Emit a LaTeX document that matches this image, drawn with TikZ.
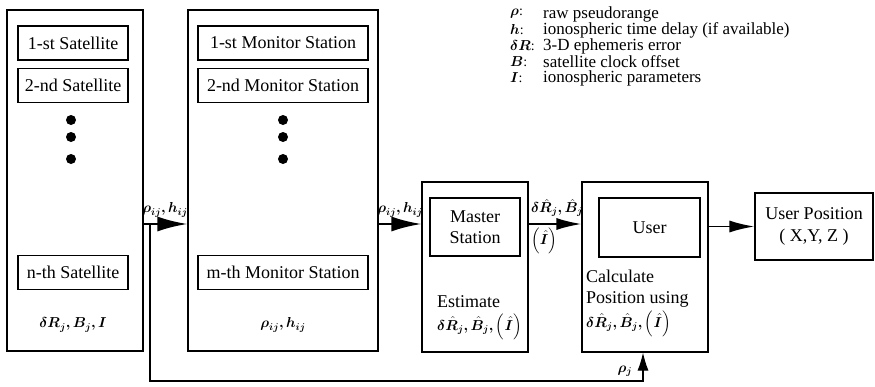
\documentclass[tikz,border=0pt]{standalone}
\usepackage{fontspec}
\setmainfont{Liberation Serif}
\usepackage{amsmath}
\usepackage{bm}
\usetikzlibrary{arrows.meta}
\tikzset{
  outer/.style={draw, line width=1.1pt, inner sep=0pt},
  inner/.style={draw, line width=1.1pt, inner sep=0pt, font=\fontsize{18}{21}\selectfont},
  dotc/.style={fill, circle, inner sep=0pt, minimum size=10pt},
  lab/.style={inner sep=0pt, font=\fontsize{14}{16}\selectfont},
  txt/.style={inner sep=0pt, align=left, anchor=west, font=\fontsize{18}{21}\selectfont},
  big/.style={line width=2.4pt, -{Latex[length=30pt,width=15pt]}},
  med/.style={line width=1.8pt, -{Latex[length=25pt,width=12pt]}},
  thin/.style={line width=1.1pt},
  leg/.style={inner sep=0pt, anchor=west, font=\fontsize{17}{16}\selectfont},
  legs/.style={inner sep=0pt, anchor=west, font=\fontsize{14}{16}\selectfont}
}
\begin{document}
\begin{tikzpicture}[x=1pt,y=-1pt]
\useasboundingbox (0,0) rectangle (875,386);
% satellites
\node[outer, minimum width=136pt, minimum height=341pt] (sat) at (75,180.5) {};
\node[inner, minimum width=110pt, minimum height=34pt] (s1) at (73,43) {1-st Satellite};
\node[inner, minimum width=110pt, minimum height=34pt] (s2) at (73,85.5) {2-nd Satellite};
\node[inner, minimum width=110pt, minimum height=34pt] (sn) at (73,272.5) {n-th Satellite};
\node[dotc] (sd1) at (71,120) {};
\node[dotc] (sd2) at (71,137) {};
\node[dotc] (sd3) at (71,159) {};
\node[lab] (slab) at (73,325) {$\bm{\delta R_j, B_j, I}$};
% monitors
\node[outer, minimum width=190pt, minimum height=341pt] (mon) at (283,180.5) {};
\node[inner, minimum width=170pt, minimum height=34pt] (m1) at (283,43) {1-st Monitor Station};
\node[inner, minimum width=170pt, minimum height=34pt] (m2) at (283,85.5) {2-nd Monitor Station};
\node[inner, minimum width=170pt, minimum height=34pt] (mm) at (283,272.5) {m-th Monitor Station};
\node[dotc] (md1) at (283,120) {};
\node[dotc] (md2) at (283,137) {};
\node[dotc] (md3) at (283,159) {};
\node[lab] (mlab) at (283,325) {$\bm{\rho_{ij}, h_{ij}}$};
% master
\node[outer, minimum width=106pt, minimum height=170pt] (mas) at (475,267) {};
\node[inner, minimum width=90pt, minimum height=58pt, align=center] (masi) at (475,227) {Master\\Station};
\node[txt] (mast) at (437,302) {Estimate};
\node[lab, anchor=west] (masf) at (437,327) {$\bm{\delta\hat{R}_j, \hat{B}_j, \left(\hat{I}\right)}$};
% user
\node[outer, minimum width=126pt, minimum height=170pt] (usr) at (645,267) {};
\node[inner, minimum width=101pt, minimum height=59pt] (usri) at (649.5,227.5) {User};
\node[txt] (usrt) at (586,289) {Calculate\\Position using};
\node[lab, anchor=west] (usrf) at (586,324) {$\bm{\delta\hat{R}_j, \hat{B}_j, \left(\hat{I}\right)}$};
% user position
\node[outer, minimum width=118pt, minimum height=67pt, align=center, font=\fontsize{18}{22}\selectfont] (upos) at (814,226.5) {User Position\\( X,Y, Z )};
% connectors
\coordinate (yl) at (0,224);
\coordinate (fb) at (150,224);
\coordinate (fbc) at (643,381);
\draw[big] (sat.east |- yl) -- (mon.west |- yl);
\draw[big] (mon.east |- yl) -- (mas.west |- yl);
\draw[med] (mas.east |- yl) -- (usr.west |- yl);
\draw[med] (usr.east |- upos.west) -- (upos.west);
\draw[thin, -{Latex[length=18pt,width=11pt]}] (fb) |- (fbc) -- (fbc |- usr.south);
% connector labels
\node[lab] (l1) at (165,210) {$\bm{\rho_{ij}, h_{ij}}$};
\node[lab] (l2) at (400,210) {$\bm{\rho_{ij}, h_{ij}}$};
\node[lab] (l3) at (557,208) {$\bm{\delta\hat{R}_j, \hat{B}_j}$};
\node[lab] (l4) at (544,241) {$\bm{\left(\hat{I}\right)}$};
\node[lab] (l5) at (625,371) {$\bm{\rho_j}$};
% legend
\node[legs] (k1) at (510,14) {$\bm{\rho}$:};
\node[legs] (k2) at (510,30) {$\bm{h}$:};
\node[legs] (k3) at (510,46) {$\bm{\delta R}$:};
\node[legs] (k4) at (510,62) {$\bm{B}$:};
\node[legs] (k5) at (510,78) {$\bm{I}$:};
\node[leg] (t1) at (543,14) {raw pseudorange};
\node[leg] (t2) at (543,30) {ionospheric time delay (if available)};
\node[leg] (t3) at (543,46) {3-D ephemeris error};
\node[leg] (t4) at (543,62) {satellite clock offset};
\node[leg] (t5) at (543,78) {ionospheric parameters};
\end{tikzpicture}
\end{document}
